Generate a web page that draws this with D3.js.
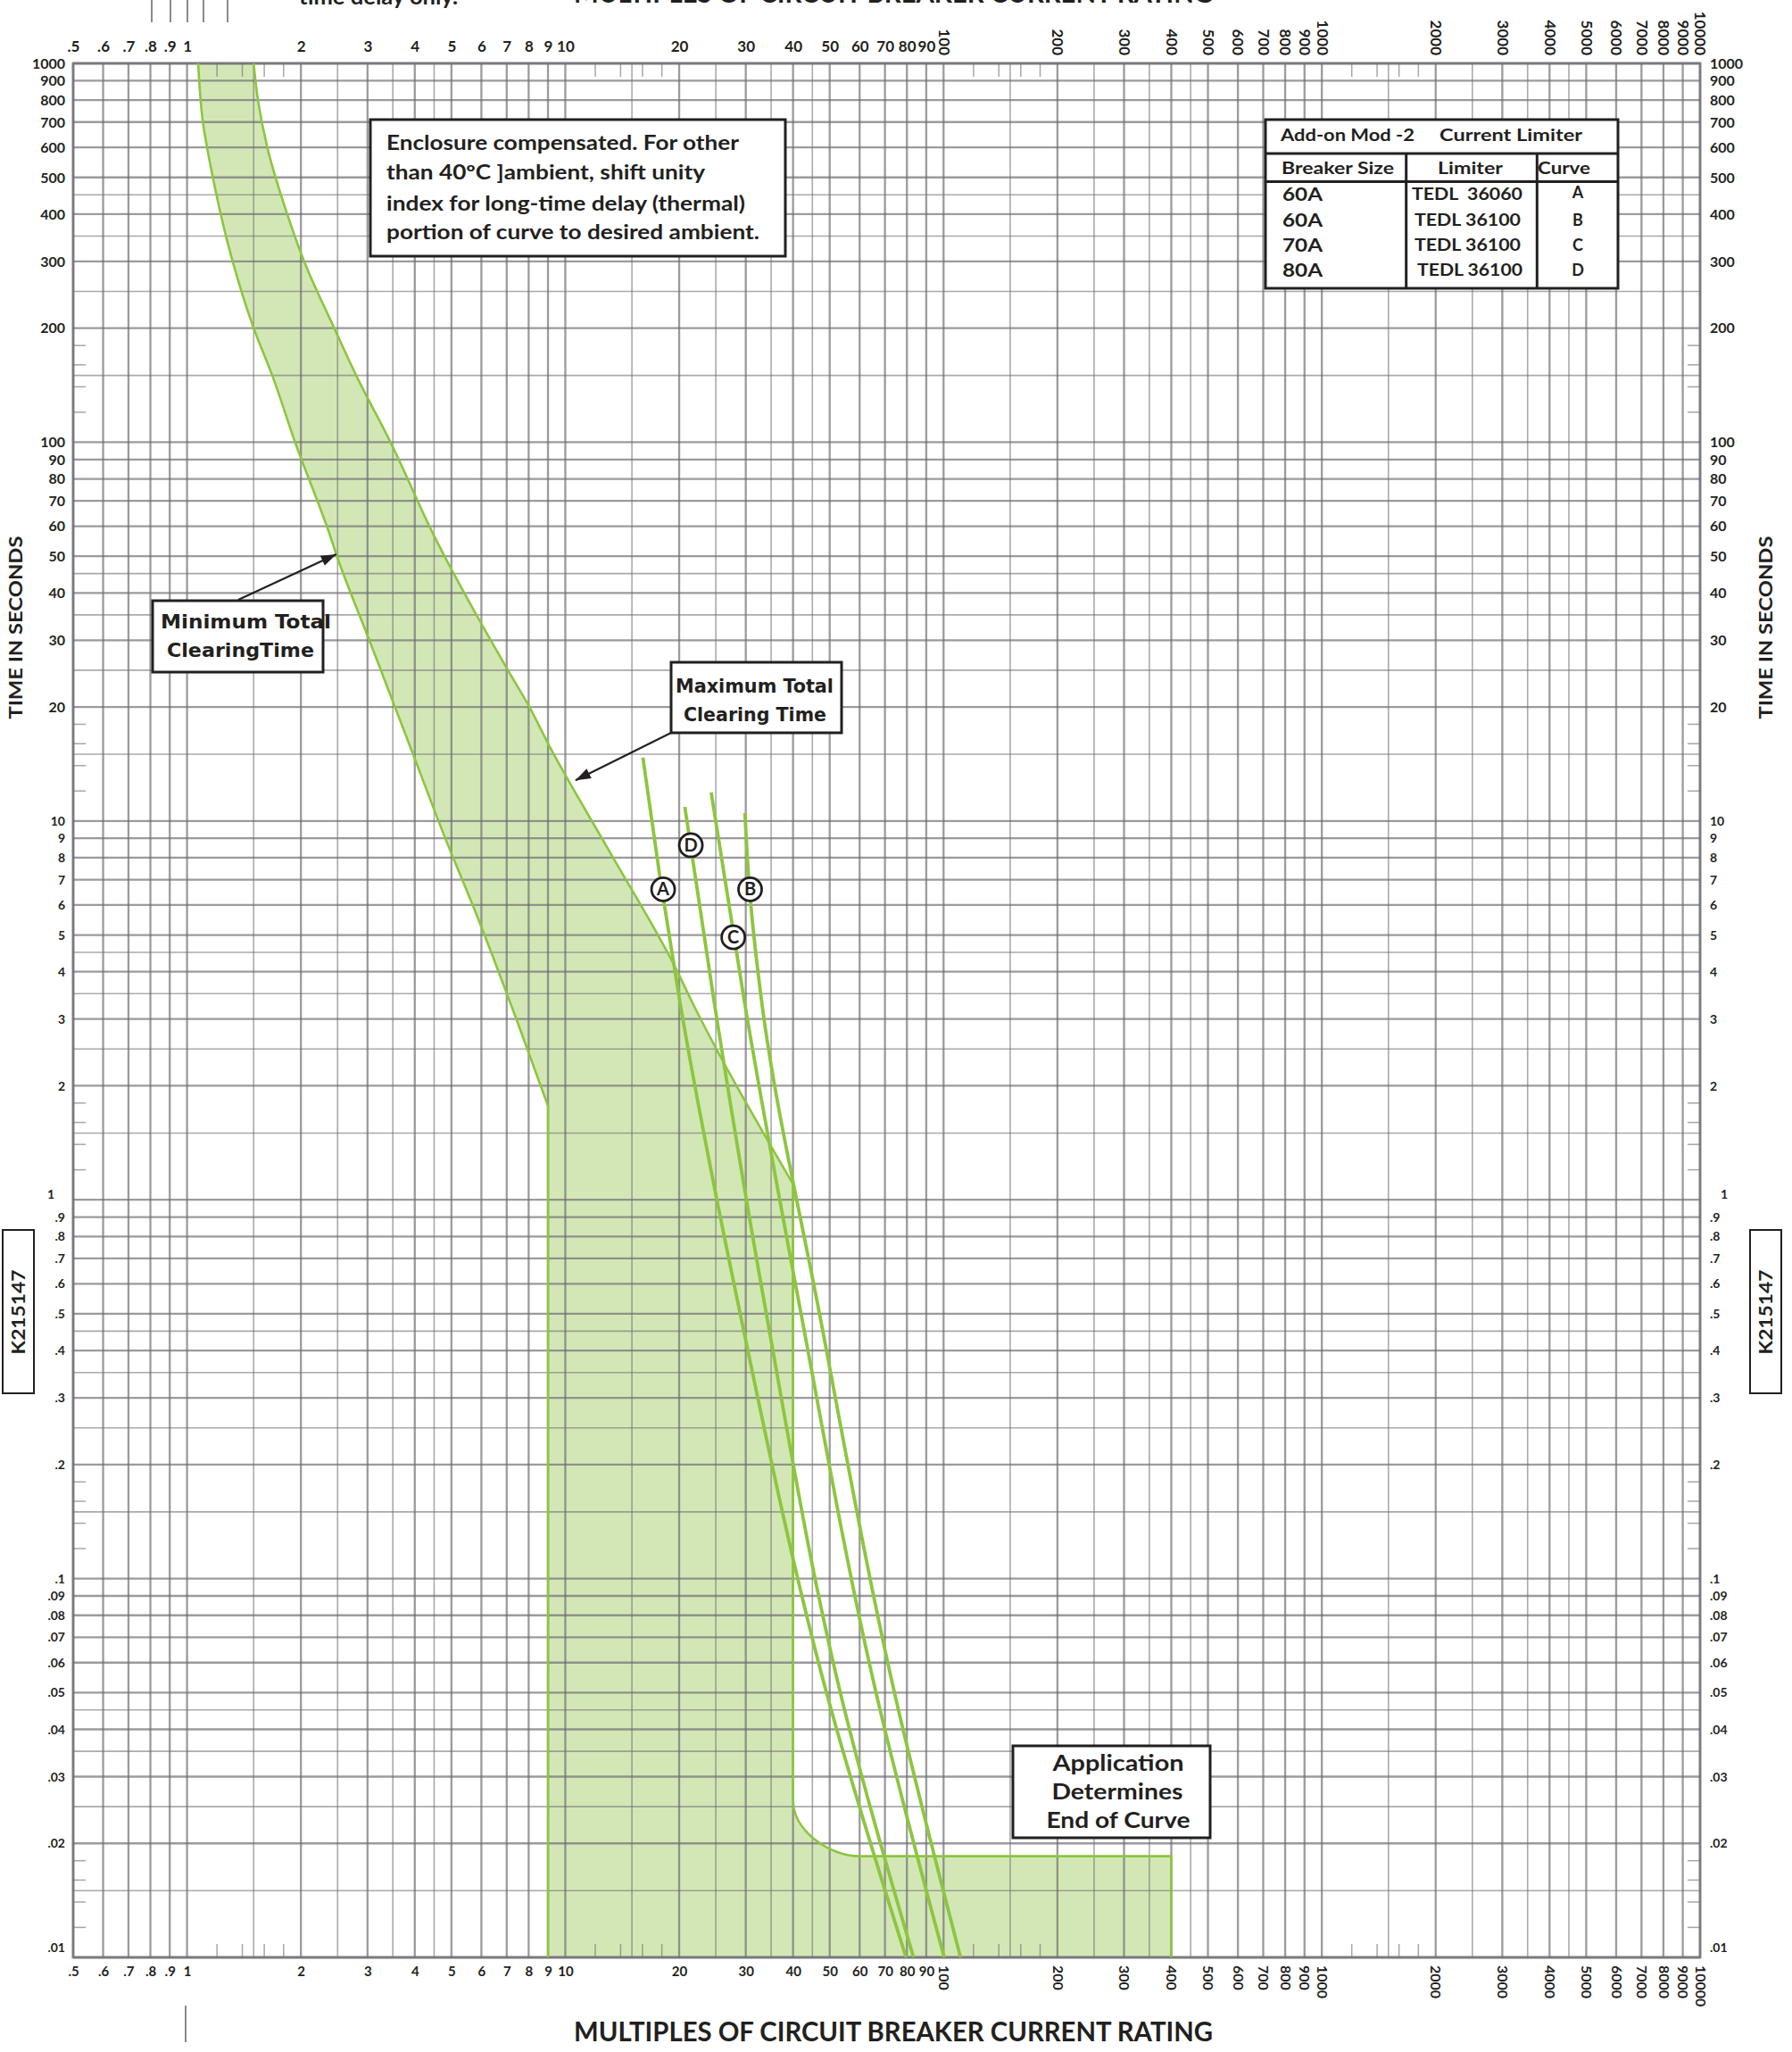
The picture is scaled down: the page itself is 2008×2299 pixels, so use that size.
<!DOCTYPE html>
<html><head><meta charset="utf-8">
<script src="https://cdn.jsdelivr.net/npm/d3@7"></script>
<style>
html,body{margin:0;padding:0;background:#fff;}
svg{display:block;}
text{font-family:Lato,"Open Sans",sans-serif;font-weight:700;fill:#231f20;}
</style></head><body>
<svg id="c" width="2008" height="2299"></svg>
<script>
// ---------- DATA ----------
const xTickValues = [0.5,0.6,0.7,0.8,0.9,1,2,3,4,5,6,7,8,9,10,20,30,40,50,60,70,80,90,100,200,300,400,500,600,700,800,900,1000,2000,3000,4000,5000,6000,7000,8000,9000,10000];
const yTickValues = [1000,900,800,700,600,500,400,300,200,100,90,80,70,60,50,40,30,20,10,9,8,7,6,5,4,3,2,1,0.9,0.8,0.7,0.6,0.5,0.4,0.3,0.2,0.1,0.09,0.08,0.07,0.06,0.05,0.04,0.03,0.02,0.01];
const decades = [0.01,0.1,1,10,100,1000];
const gridMultipliers = [1,1.5,2,2.5,3,3.5,4,4.5,5,6,7,8,9];
const halfMultipliers = [1.5,2.5,3.5,4.5];
const minorTickMultipliers = [1.2,1.4,1.6,1.8];

// Minimum total clearing time (left edge of band): [multiple, seconds]
const minClearing = [[1.07,1000],[1.10,706],[1.17,500],[1.32,300],[1.50,200],[1.68,150],[1.93,100],[2.39,56.6],[2.48,50.6],[3.01,30.6],[3.92,15.4],[4.81,9.03],[5.85,5.6],[7.45,2.97],[9.0,1.77]];
// Maximum total clearing time (right edge of band)
const maxClearing = [[1.50,1000],[1.54,800],[1.63,600],[1.84,400],[2.04,300],[2.45,200],[2.8,150],[3.45,100],[4.5,56.6],[7.12,24.6],[7.95,20.4],[9.19,15.4],[12.86,8.56],[19.6,4.08],[21.5,3.37],[40,1.1]];
const minInstantX = 9;        // min curve drops vertically here
const maxInstantX = 40;       // max curve drops vertically here
const kneeTopTime = 0.026;
const instLevelStart = 60;
const instLevelTime = 0.0185;
const instLevelEnd = 400;

// Current limiter curves
const curveA = [[16.04,14.7],[17.8,7.08],[20.05,3.37],[29,0.5],[49.3,0.049],[79.6,0.01]];
const curveB = [[29.85,10.5],[30.7,6.58],[33.0,3.37],[47,0.5],[74.5,0.049],[110.9,0.01]];
const curveC = [[24.3,11.9],[29.7,3.37],[42,0.5],[66.6,0.049],[100.4,0.01]];
const curveD = [[20.7,10.9],[24.7,3.37],[34,0.5],[53.6,0.049],[83.3,0.01]];
const curveLabelNames = ["A","B","C","D"];
const curveLabelX = [18.14,30.8,27.8,21.47];
const curveLabelY = [6.6,6.6,4.93,8.63];

const tableRows = [["60A","TEDL\u00a0 36060","A"],["60A","TEDL 36100","B"],["70A","TEDL 36100","C"],["80A","TEDL 36100","D"]];
const noteLines = ["Enclosure compensated. For other","than 40ºC ]ambient, shift unity","index for long-time delay (thermal)","portion of curve to desired ambient."];

// ---------- SETUP ----------
const svg = d3.select('#c');
svg.append('rect').attr('width',2008).attr('height',2299).attr('fill','#fff');
const L = 82, R = 1905, T = 71, B = 2193;
const x = d3.scaleLog().domain([0.5,10000]).range([L,R]);
const y = d3.scaleLog().domain([1000,0.01]).range([T,B]);
const GREEN = '#8cc63f', FILL = '#d3e7b6', INK = '#231f20';

svg.append('defs').append('clipPath').attr('id','plot')
  .append('rect').attr('x',L).attr('y',T).attr('width',R-L).attr('height',B-T);
const plot = svg.append('g').attr('clip-path','url(#plot)');

// ---------- BAND FILL ----------
const lineGen = d3.line().x(d=>x(d[0])).y(d=>y(d[1])).curve(d3.curveMonotoneY);
const cont = p => p.replace(/^M/,'L');
const k = 0.552;
const kx0 = x(maxInstantX), ky0 = y(kneeTopTime), kx1 = x(instLevelStart), ky1 = y(instLevelTime);
const knee = `L${kx0},${ky0}C${kx0},${ky0 + k*(ky1-ky0)} ${kx0 + k*(kx1-kx0)},${ky1} ${kx1},${ky1}`;
const rightEdge = lineGen(maxClearing) + knee + `L${x(instLevelEnd)},${ky1}L${x(instLevelEnd)},${y(0.01)}`;
const fillD = rightEdge + `L${x(minInstantX)},${y(0.01)}` + cont(lineGen(minClearing.slice().reverse())) + 'Z';
plot.append('path').attr('d',fillD).attr('fill',FILL);

// ---------- GRID ----------
const xGrid = [0.5,0.6,0.7,0.8,0.9];
[1,10,100,1000].forEach(d=>gridMultipliers.forEach(m=>xGrid.push(d*m)));
xGrid.push(10000);
const yGrid = [];
decades.forEach(d=>gridMultipliers.forEach(m=>{ if(d*m<=1000) yGrid.push(d*m); }));
const isHalf = v => { const m = v/Math.pow(10,Math.floor(Math.log10(v)+1e-9)); return halfMultipliers.some(h=>Math.abs(h-m)<1e-6); };
const grid = svg.append('g').attr('stroke','#6c6c72');
grid.selectAll('line.vx').data(xGrid).join('line')
  .attr('x1',d=>x(d)).attr('x2',d=>x(d)).attr('y1',T).attr('y2',B)
  .attr('stroke-width',d=>isHalf(d)?1.6:2.3).attr('stroke-opacity',d=>isHalf(d)?0.58:0.68);
grid.selectAll('line.hy').data(yGrid).join('line')
  .attr('y1',d=>y(d)).attr('y2',d=>y(d)).attr('x1',L).attr('x2',R)
  .attr('stroke-width',d=>isHalf(d)?1.6:2.3).attr('stroke-opacity',d=>isHalf(d)?0.58:0.68);
// minor ticks
const xMinor = [], yMinor = [];
[1,10,100,1000].forEach(d=>minorTickMultipliers.forEach(m=>xMinor.push(d*m)));
[0.01,0.1,1,10,100].forEach(d=>minorTickMultipliers.forEach(m=>yMinor.push(d*m)));
const mt = svg.append('g').attr('stroke','#6c6c72').attr('stroke-opacity',0.6).attr('stroke-width',1.5);
xMinor.forEach(v=>{
  mt.append('line').attr('x1',x(v)).attr('x2',x(v)).attr('y1',T).attr('y2',T+15);
  mt.append('line').attr('x1',x(v)).attr('x2',x(v)).attr('y1',B-15).attr('y2',B);
});
yMinor.forEach(v=>{
  mt.append('line').attr('y1',y(v)).attr('y2',y(v)).attr('x1',L).attr('x2',L+14);
  mt.append('line').attr('y1',y(v)).attr('y2',y(v)).attr('x1',R-14).attr('x2',R);
});
svg.append('rect').attr('x',L).attr('y',T).attr('width',R-L).attr('height',B-T)
  .attr('fill','none').attr('stroke','#6c6c72').attr('stroke-opacity',0.7).attr('stroke-width',3);

// ---------- BAND EDGES & CURVES ----------
const lines = svg.append('g').attr('clip-path','url(#plot)').attr('fill','none').attr('stroke',GREEN);
lines.append('path').attr('d',lineGen(minClearing)+`L${x(minInstantX)},${y(0.01)}`).attr('stroke-width',2.6);
lines.append('path').attr('d',rightEdge).attr('stroke-width',2.6);
[curveA,curveB,curveC,curveD].forEach(c=>{
  lines.append('path').attr('d',lineGen(c)).attr('stroke-width',3.8);
});
const lbl = svg.append('g');
curveLabelNames.forEach((n,i)=>{
  const cx = x(curveLabelX[i]), cy = y(curveLabelY[i]);
  lbl.append('circle').attr('cx',cx).attr('cy',cy).attr('r',13).attr('fill','#fff').attr('stroke',INK).attr('stroke-width',2.8);
  lbl.append('text').attr('x',cx).attr('y',cy+7).attr('text-anchor','middle').attr('font-size',20).text(n);
});

// ---------- AXES ----------
const fmt = v => v < 1 ? String(+v.toPrecision(3)).replace(/^0/,'') : String(v);
function styleAxis(g){ g.select('.domain').remove(); g.attr('font-family',null).attr('font-size',null); }
const xLow = xTickValues.filter(v=>v<100), xHigh = xTickValues.filter(v=>v>=100);
svg.append('g').attr('transform','translate(0,58)')
  .call(d3.axisTop(x).tickValues(xLow).tickSize(0).tickPadding(0).tickFormat(fmt)).call(styleAxis)
  .selectAll('text').attr('font-size',17).attr('dy',0);
svg.append('g').attr('transform','translate(0,62)')
  .call(d3.axisTop(x).tickValues(xHigh).tickSize(0).tickPadding(0).tickFormat(fmt)).call(styleAxis)
  .selectAll('text').attr('font-size',17).attr('y',0).attr('dy','0.36em').attr('transform','rotate(90)').attr('text-anchor','end');
svg.append('g').attr('transform','translate(0,2214)')
  .call(d3.axisBottom(x).tickValues(xLow).tickSize(0).tickPadding(0).tickFormat(fmt)).call(styleAxis)
  .selectAll('text').attr('font-size',15).attr('y',0).attr('dy',0);
svg.append('g').attr('transform','translate(0,2202)')
  .call(d3.axisBottom(x).tickValues(xHigh).tickSize(0).tickPadding(0).tickFormat(fmt)).call(styleAxis)
  .selectAll('text').attr('font-size',16).attr('y',0).attr('dy','0.36em').attr('transform','rotate(90)').attr('text-anchor','start');
const ySize = v => v >= 20 ? 16 : 14;
const yShift = v => v === 0.01 ? -11 : (v === 1 ? -6 : 0);
svg.append('g').attr('transform','translate(73,0)')
  .call(d3.axisLeft(y).tickValues(yTickValues).tickSize(0).tickPadding(0).tickFormat(fmt)).call(styleAxis)
  .selectAll('text').attr('font-size',ySize).attr('x',v=>v===1?-12:0).attr('dy','0.33em').attr('y',yShift);
svg.append('g').attr('transform','translate(1916,0)')
  .call(d3.axisRight(y).tickValues(yTickValues).tickSize(0).tickPadding(0).tickFormat(fmt)).call(styleAxis)
  .selectAll('text').attr('font-size',ySize).attr('x',v=>v===1?12:0).attr('dy','0.33em').attr('y',yShift);

// ---------- TITLES ----------
function t(str, px, py, size, opt={}){
  const e = svg.append('text').attr('x',px).attr('y',py).attr('font-size',size).text(str);
  if(opt.len){ e.attr('textLength',opt.len).attr('lengthAdjust','spacingAndGlyphs'); }
  if(opt.anchor) e.attr('text-anchor',opt.anchor);
  if(opt.rot) e.attr('transform',`rotate(${opt.rot},${px},${py})`);
  if(opt.family) e.style('font-family',opt.family);
  return e;
}
t('MULTIPLES OF CIRCUIT BREAKER CURRENT RATING',643,2287,30,{len:716});
t('MULTIPLES OF CIRCUIT BREAKER CURRENT RATING',643,3,30,{len:716});
t('time delay only.',335,5,24,{len:178});
t('TIME IN SECONDS',25,703,20,{len:205,anchor:'middle',rot:-90});
t('TIME IN SECONDS',1986,703,20,{len:205,anchor:'middle',rot:-90});
svg.append('rect').attr('x',3).attr('y',1378).attr('width',35).attr('height',183).attr('fill','#fff').attr('stroke',INK).attr('stroke-width',2);
svg.append('rect').attr('x',1961).attr('y',1378).attr('width',35).attr('height',183).attr('fill','#fff').attr('stroke',INK).attr('stroke-width',2);
t('K215147',27.5,1470,20,{len:95,anchor:'middle',rot:-90});
t('K215147',1985.5,1470,20,{len:95,anchor:'middle',rot:-90});
// stray marks from neighbouring figure
[170,191,210,228,255].forEach(px=>svg.append('line').attr('x1',px).attr('x2',px).attr('y1',0).attr('y2',25).attr('stroke','#8a8a8e').attr('stroke-width',2));
svg.append('line').attr('x1',208).attr('x2',208).attr('y1',2247).attr('y2',2288).attr('stroke','#8a8a8e').attr('stroke-width',2);

// ---------- ANNOTATION BOXES ----------
function box(x0,y0,w,h){ svg.append('rect').attr('x',x0).attr('y',y0).attr('width',w).attr('height',h).attr('fill','#fff').attr('stroke',INK).attr('stroke-width',3); }
box(415,134,465,153);
const noteLens = [395,357,402,418], noteY = [168,201,236,268];
noteLines.forEach((s,i)=>t(s,433,noteY[i],22,{len:noteLens[i]}));

// table
box(1418,134,395,189);
const tl = svg.append('g').attr('stroke',INK).attr('stroke-width',3);
tl.append('line').attr('x1',1418).attr('x2',1813).attr('y1',172).attr('y2',172);
tl.append('line').attr('x1',1418).attr('x2',1813).attr('y1',203.5).attr('y2',203.5);
tl.append('line').attr('x1',1575.7).attr('x2',1575.7).attr('y1',172).attr('y2',323);
tl.append('line').attr('x1',1722.3).attr('x2',1722.3).attr('y1',172).attr('y2',323);
t('Add-on Mod -2',1435,158,18,{len:150});
t('Current Limiter',1613,158,18,{len:160});
t('Breaker Size',1436,195,18,{len:126});
t('Limiter',1611,195,18,{len:73});
t('Curve',1723,195,18,{len:59});
const rowY = [225,254,282,310];
const col2X = [1582,1585,1585,1588], col2Len=[124,119,119,118];
tableRows.forEach((r,i)=>{
  t(r[0],1437,rowY[i],21,{len:45});
  t(r[1],col2X[i],rowY[i]-1,19,{len:col2Len[i]});
  t(r[2],1768,rowY[i]-(i===0?3:1),18,{anchor:'middle'});
});

// Minimum / maximum clearing time call-outs
const cond = '"DejaVu Sans Condensed","DejaVu Sans",sans-serif';
function arrow(x1,y1,x2,y2){
  svg.append('line').attr('x1',x1).attr('y1',y1).attr('x2',x2).attr('y2',y2).attr('stroke',INK).attr('stroke-width',2.2);
  const a = Math.atan2(y2-y1,x2-x1), s=17, w=6;
  const bx = x2 - s*Math.cos(a), by = y2 - s*Math.sin(a);
  svg.append('path').attr('d',`M${x2},${y2}L${bx - w*Math.sin(a)},${by + w*Math.cos(a)}L${bx + w*Math.sin(a)},${by - w*Math.cos(a)}Z`).attr('fill',INK);
}
arrow(267,672,x(2.48),y(50.6));
box(171,673,191,80);
t('Minimum Total',180,704,22,{len:191,family:cond});
t('ClearingTime',187,736,22,{len:165,family:cond});
arrow(752,821,x(10.64),y(12.8));
box(752,742,191,79);
t('Maximum Total',757,776,22,{len:177,family:cond});
t('Clearing Time',766,808,22,{len:160,family:cond});

box(1135,1956,221,103);
t('Application',1253,1984,25,{len:147,anchor:'middle'});
t('Determines',1252,2016,25,{len:147,anchor:'middle'});
t('End of Curve',1253,2048,25,{len:161,anchor:'middle'});
</script>
</body></html>
